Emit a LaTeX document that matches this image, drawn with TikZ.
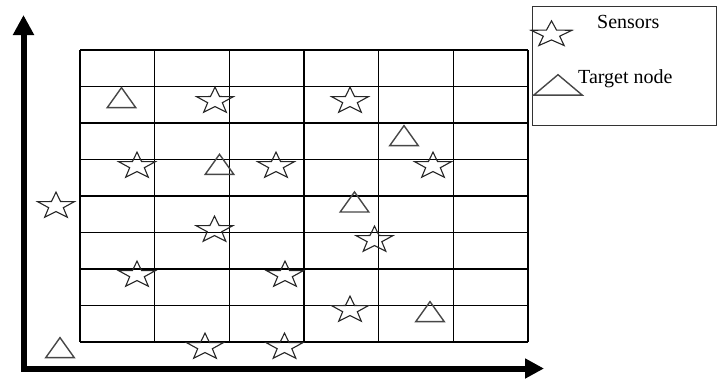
\documentclass[tikz,border=0pt]{standalone}
\usepackage{fontspec}
\setmainfont{Liberation Serif}
\usetikzlibrary{shapes.geometric,arrows.meta}
\begin{document}
\begin{tikzpicture}[x=1pt,y=-1pt,
  sensor/.style={star,star points=5,star point ratio=2.5,minimum size=38.5pt,inner sep=0pt,draw=black!85,line width=1.1pt,yscale=0.72},
  target/.style={regular polygon,regular polygon sides=3,minimum size=33pt,inner sep=0pt,draw=black!72,line width=1.4pt,yscale=0.81},
  gridline/.style={line width=1.1pt},
  axis/.style={line width=6pt,line join=miter,{Triangle[length=20pt,width=20pt]}-{Triangle[length=19pt,width=19pt]}},
  legendtext/.style={font=\fontsize{20}{24}\selectfont,anchor=base west,inner sep=0pt},
]
\useasboundingbox (0,0) rectangle (717,378);

% grid
\foreach \i in {0,...,6} \draw[gridline] ({80+\i*448/6},50) -- ({80+\i*448/6},342);
\foreach \j in {0,...,8} \draw[gridline] (80,{50+\j*36.5}) -- (528,{50+\j*36.5});

% axes
\coordinate (ytip) at (23.5,15);
\coordinate (origin) at (23.5,368.5);
\coordinate (xtip) at (544,368.5);
\draw[axis] (ytip) -- (origin) -- (xtip);

% sensors
\node[sensor] (s1) at (215,101) {};
\node[sensor] (s2) at (350,101) {};
\node[sensor] (s3) at (137,166) {};
\node[sensor] (s4) at (276,166) {};
\node[sensor] (s5) at (433,166) {};
\node[sensor] (s6) at (56,206) {};
\node[sensor] (s7) at (214.5,230) {};
\node[sensor] (s8) at (374.5,240) {};
\node[sensor] (s9) at (137,275) {};
\node[sensor] (s10) at (285,275) {};
\node[sensor] (s11) at (350,310) {};
\node[sensor] (s12) at (205,347) {};
\node[sensor] (s13) at (284.5,347) {};

% targets
\node[target] (t1) at (121.5,101) {};
\node[target] (t2) at (219.5,167.7) {};
\node[target] (t3) at (404,139) {};
\node[target] (t4) at (354.5,205.3) {};
\node[target] (t5) at (430,315) {};
\node[target] (t6) at (60,351) {};

% legend
\node[draw=black!80,line width=1.3pt,minimum width=184pt,minimum height=119pt,anchor=north west,inner sep=0pt] (legend) at (532,6) {};
\node[sensor,minimum size=43pt,yscale=0.88] (ls) at (551.5,34.5) {};
\node[target,minimum size=56pt,yscale=0.6] (lt) at (558,88.3) {};
\node[legendtext] (lsl) at (597,28) {Sensors};
\node[legendtext] (ltl) at (578,83) {Target node};
\end{tikzpicture}
\end{document}
